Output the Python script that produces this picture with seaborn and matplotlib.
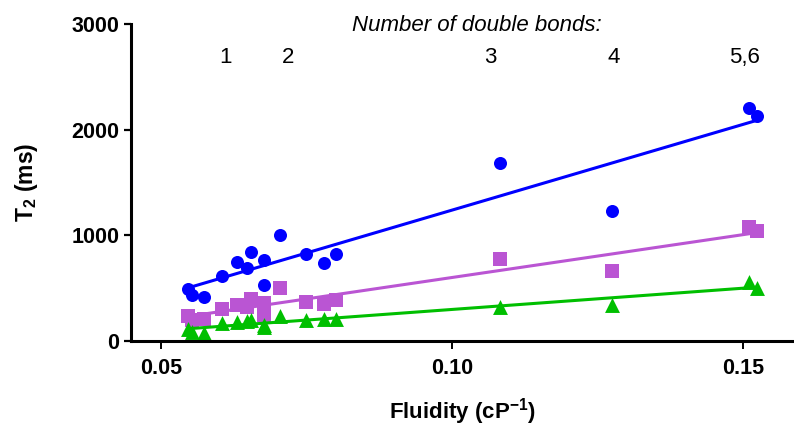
import numpy as np
import pandas as pd
import matplotlib
matplotlib.use("Agg")
import matplotlib.pyplot as plt
import seaborn as sns

# Fluidity of each sample (cP^-1) and the three fitted T2 components (ms)
fluidity = [0.05459, 0.05538, 0.05739, 0.06048, 0.06301, 0.06483, 0.06541,
            0.06775, 0.06775, 0.07040, 0.07491, 0.07806, 0.08002, 0.10820,
            0.12749, 0.15103, 0.15246]
t2_long = [492, 435, 413, 612, 750, 688, 839, 771, 531, 1003, 824, 735, 828,
           1687, 1233, 2204, 2129]
t2_mid = [239, 203, 208, 306, 341, 322, 397, 355, 246, 501, 372, 346, 388,
          773, 662, 1076, 1041]
t2_short = [111, 88, 73, 173, 177, 189, 199, 151, 132, 232, 196, 208, 211,
            325, 341, 561, 499]

# Double-bond labels placed along the fluidity axis
bond_labels = ["1", "2", "3", "4", "5,6"]
bond_x = [0.06117, 0.07182, 0.10653, 0.12775, 0.15017]

x_ticks = [0.05, 0.10, 0.15]
x_tick_labels = ["0.05", "0.10", "0.15"]
y_ticks = [0, 1000, 2000, 3000]

df = pd.DataFrame({"fluidity": fluidity, "long": t2_long,
                   "mid": t2_mid, "short": t2_short})

sns.set_style("ticks")
plt.rcParams["font.family"] = ["Liberation Sans", "DejaVu Sans"]
plt.rcParams["mathtext.default"] = "regular"
for key in ("text.color", "axes.labelcolor", "xtick.color", "ytick.color",
            "axes.edgecolor"):
    plt.rcParams[key] = "black"

fig = plt.figure(figsize=(7.94, 4.26), dpi=100)
ax = fig.add_axes([131 / 794, 85 / 426, 663 / 794, 317 / 426])

series = [
    ("long", "#0000FF", "o", 88),
    ("mid", "#BA55D3", "s", 88),
    ("short", "#00BF00", "^", 115),
]
for col, color, marker, size in series:
    sns.regplot(data=df, x="fluidity", y=col, ax=ax, ci=None, truncate=True,
                color=color, marker=marker,
                scatter_kws={"s": size, "alpha": 1, "linewidths": 0,
                             "clip_on": False},
                line_kws={"linewidth": 2.2})

ax.set_xlim(0.04485, 0.15876)
ax.set_ylim(0, 3000)
ax.set_xticks(x_ticks)
ax.set_xticklabels(x_tick_labels)
ax.set_yticks(y_ticks)

for label in ax.get_xticklabels() + ax.get_yticklabels():
    label.set_fontweight("bold")
    label.set_fontsize(15.5)
    label.set_color("black")

ax.tick_params(axis="y", length=5, width=1.6, pad=3.5, color="black")
ax.tick_params(axis="x", length=6, width=1.4, pad=6, color="black")

sns.despine(ax=ax)
for side in ("left", "bottom"):
    ax.spines[side].set_linewidth(2.2)
    ax.spines[side].set_color("black")

ax.set_xlabel("Fluidity (cP$^{-1}$)", fontsize=16, fontweight="bold")
ax.set_ylabel("T$_2$ (ms)", fontsize=16.5, fontweight="bold")
ax.xaxis.set_label_coords(0.5, -0.175)
ax.yaxis.set_label_coords(-0.138, 0.5)

ax.text(0.1043, 2990, "Number of double bonds:", fontsize=16, style="italic",
        ha="center", va="center", clip_on=False)
for lbl, xv in zip(bond_labels, bond_x):
    ax.text(xv, 2680, lbl, fontsize=16, ha="center", va="center",
            clip_on=False)

fig.savefig("out.png", dpi=100)
